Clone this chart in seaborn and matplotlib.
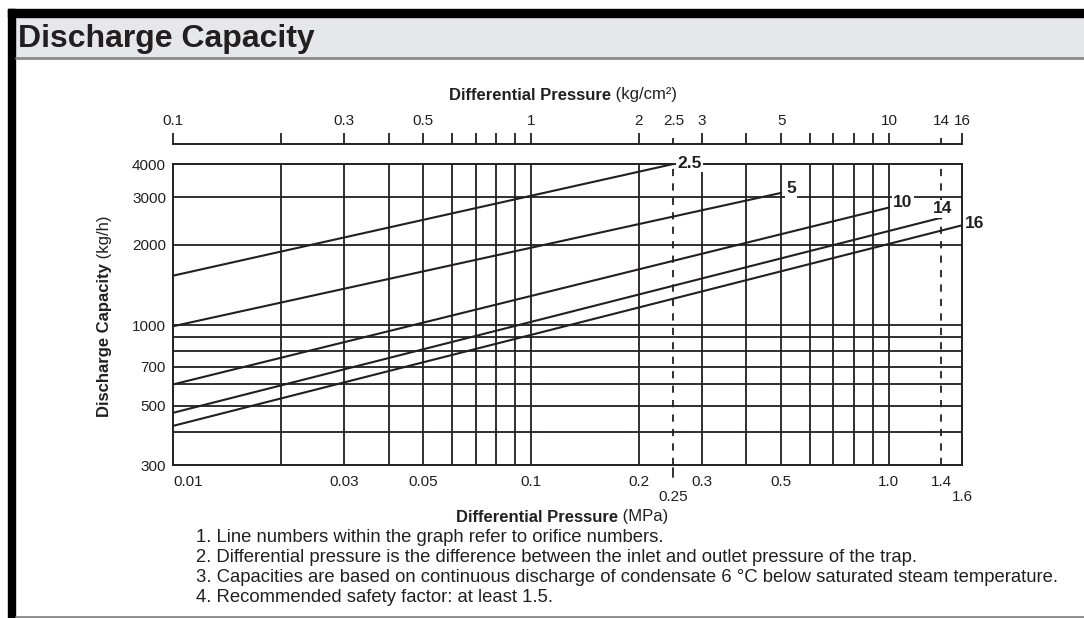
import numpy as np
import pandas as pd
import matplotlib
matplotlib.use('Agg')
import matplotlib.pyplot as plt
import seaborn as sns
from matplotlib.patches import Rectangle
from matplotlib.lines import Line2D
from matplotlib.ticker import FixedLocator, FixedFormatter, NullLocator

# --- data (pressure in MPa, capacity in kg/h) ---
orifices = ['2.5', '5', '10', '14', '16']
p_start = [0.01, 0.01, 0.01, 0.01, 0.01]
p_end = [0.25, 0.5, 1.0, 1.4, 1.6]
cap_start = [1530, 990, 600, 470, 420]
cap_end = [4000, 3120, 2750, 2520, 2360]

# bottom axis (MPa)
mpa_ticks = [0.01, 0.03, 0.05, 0.1, 0.2, 0.3, 0.5, 1.0, 1.4]
mpa_labels = ['0.01', '0.03', '0.05', '0.1', '0.2', '0.3', '0.5', '1.0', '1.4']
mpa_ticks_low = [0.25, 1.6]
mpa_labels_low = ['0.25', '1.6']

# top axis (kg/cm2)
kg_ticks = [0.1, 0.2, 0.3, 0.4, 0.5, 0.6, 0.7, 0.8, 0.9, 1, 2, 3, 4, 5, 6, 7, 8, 9, 10, 16]
kg_labels = ['0.1', '', '0.3', '', '0.5', '', '', '', '', '1', '2', '3', '', '5', '', '', '', '', '10', '16']
kg_ticks_short = [2.5, 14]
kg_labels_short = ['2.5', '14']

cap_ticks = [300, 500, 700, 1000, 2000, 3000, 4000]
cap_labels = ['300', '500', '700', '1000', '2000', '3000', '4000']

x_grid = [0.02, 0.03, 0.04, 0.05, 0.06, 0.07, 0.08, 0.09, 0.1,
          0.2, 0.3, 0.4, 0.5, 0.6, 0.7, 0.8, 0.9, 1.0]
x_dashed = [0.25, 1.4]
y_grid = [400, 500, 600, 700, 800, 900, 1000, 2000, 3000]

notes = [
    '1. Line numbers within the graph refer to orifice numbers.',
    '2. Differential pressure is the difference between the inlet and outlet pressure of the trap.',
    '3. Capacities are based on continuous discharge of condensate 6 \u00b0C below saturated steam temperature.',
    '4. Recommended safety factor: at least 1.5.',
]

df = pd.DataFrame({
    'orifice': orifices * 2,
    'pressure': p_start + p_end,
    'capacity': cap_start + cap_end,
})

sns.set_theme(style='white')
plt.rcParams['font.family'] = ['Liberation Sans', 'DejaVu Sans']
INK = '#231f20'
TICK_SIZE = 11

W, H = 1084, 618
fig = plt.figure(figsize=(W / 100, H / 100), dpi=100)
fig.patch.set_facecolor('white')


def fx(px):
    return px / W


def fy(py):
    return 1 - py / H


# page frame / header band
fig.patches.append(Rectangle((fx(16), fy(57)), fx(W - 16), 40 / H,
                             transform=fig.transFigure, color='#e6e7e8', zorder=0))
fig.patches.append(Rectangle((fx(8), fy(17)), fx(W - 8), 8 / H,
                             transform=fig.transFigure, color='black', zorder=1))
fig.patches.append(Rectangle((fx(8), 0), 7 / W, fy(9),
                             transform=fig.transFigure, color='black', zorder=1))
fig.lines.append(Line2D([fx(16), 1], [fy(58), fy(58)], transform=fig.transFigure,
                        color='#8a8a8a', lw=2))
fig.lines.append(Line2D([fx(16), 1], [fy(616.5), fy(616.5)], transform=fig.transFigure,
                        color='#8a8a8a', lw=2))
fig.text(fx(18), fy(39), 'Discharge Capacity', fontsize=23, fontweight='bold',
         color=INK, va='center', ha='left')

# main plot area
left, right, top, bottom = 173, 962, 164, 465
ax = fig.add_axes([fx(left), fy(bottom), fx(right - left), (bottom - top) / H])

sns.lineplot(data=df, x='pressure', y='capacity', hue='orifice', hue_order=orifices,
             palette=[INK] * len(orifices), estimator=None, sort=False,
             legend=False, lw=1.5, ax=ax, zorder=3)
ax.set_xscale('log')
ax.set_yscale('log')
ax.set_xlim(0.01, 1.6)
ax.set_ylim(300, 4000)

for x in x_grid:
    ax.axvline(x, color=INK, lw=1.3, zorder=1)
for x in x_dashed:
    ax.axvline(x, color=INK, lw=1.3, ls=(0, (4, 4)), zorder=1)
for y in y_grid:
    ax.axhline(y, color=INK, lw=1.3, zorder=1)
# little dashed stub under the axis pointing at 0.25
ax.plot([x_dashed[0]] * 2, [-0.04, -0.01], transform=ax.get_xaxis_transform(),
        color=INK, lw=1.3, clip_on=False)

for s in ax.spines.values():
    s.set_color(INK)
    s.set_linewidth(1.4)
    s.set_visible(True)

ax.xaxis.set_major_locator(FixedLocator(mpa_ticks))
ax.xaxis.set_major_formatter(FixedFormatter(mpa_labels))
ax.xaxis.set_minor_locator(FixedLocator(mpa_ticks_low))
ax.xaxis.set_minor_formatter(FixedFormatter(mpa_labels_low))
ax.tick_params(axis='x', which='major', length=0, pad=7, labelsize=TICK_SIZE, labelcolor=INK)
ax.tick_params(axis='x', which='minor', length=0, pad=18, labelsize=TICK_SIZE, labelcolor=INK)
ax.xaxis.get_major_ticks()[0].label1.set_horizontalalignment('left')

ax.yaxis.set_major_locator(FixedLocator(cap_ticks))
ax.yaxis.set_major_formatter(FixedFormatter(cap_labels))
ax.yaxis.set_minor_locator(NullLocator())
ax.tick_params(axis='y', which='major', length=0, pad=5, labelsize=TICK_SIZE, labelcolor=INK)
ax.set_xlabel('')
ax.set_ylabel('')

# top axis in kg/cm2, offset above the plot
sec = ax.secondary_xaxis(1 + 20 / (bottom - top),
                         functions=(lambda v: v * 10, lambda v: v / 10))
sec.xaxis.set_major_locator(FixedLocator(kg_ticks))
sec.xaxis.set_major_formatter(FixedFormatter(kg_labels))
sec.xaxis.set_minor_locator(FixedLocator(kg_ticks_short))
sec.xaxis.set_minor_formatter(FixedFormatter(kg_labels_short))
sec.tick_params(axis='x', which='major', direction='out', length=8, width=1.3,
                color=INK, pad=3.5, labelsize=TICK_SIZE, labelcolor=INK)
sec.tick_params(axis='x', which='minor', direction='out', length=4.5, width=1.3,
                color=INK, pad=7, labelsize=TICK_SIZE, labelcolor=INK)
for s in sec.spines.values():
    s.set_color(INK)
    s.set_linewidth(1.4)

# orifice labels at line ends
label_offsets = [(4, 1), (5, 4), (4, 5), (1, 9), (3, 2)]
label_ha = ['left', 'left', 'left', 'center', 'left']
for name, px, cy, off, ha in zip(orifices, p_end, cap_end, label_offsets, label_ha):
    ax.annotate(name, (px, cy), xytext=off, textcoords='offset pixels',
                ha=ha, va='center', fontsize=12.5, fontweight='bold', color=INK,
                annotation_clip=False, zorder=5,
                bbox=dict(boxstyle='square,pad=0.08', fc='white', ec='none'))

renderer = fig.canvas.get_renderer()


def mixed_label(cx, cy, bold, normal, size, vertical=False):
    # bold part followed by regular part, centred at (cx, cy) in pixels
    kw = dict(fontsize=size, color=INK, rotation=90 if vertical else 0)
    t1 = fig.text(0, 0, bold, fontweight='bold', **kw)
    t2 = fig.text(0, 0, normal, **kw)
    e1 = t1.get_window_extent(renderer)
    e2 = t2.get_window_extent(renderer)
    if vertical:
        total = e1.height + e2.height
        y0 = (H - cy) - total / 2
        t1.set_position((fx(cx), y0 / H))
        t1.set_ha('center'); t1.set_va('bottom')
        t2.set_position((fx(cx), (y0 + e1.height) / H))
        t2.set_ha('center'); t2.set_va('bottom')
    else:
        total = e1.width + e2.width
        x0 = cx - total / 2
        t1.set_position((x0 / W, fy(cy)))
        t1.set_ha('left'); t1.set_va('center')
        t2.set_position(((x0 + e1.width) / W, fy(cy)))
        t2.set_ha('left'); t2.set_va('center')


mixed_label(563, 95, 'Differential Pressure', ' (kg/cm\u00b2)', 12)
mixed_label(562, 517, 'Differential Pressure', ' (MPa)', 12)
mixed_label(105, 316, 'Discharge Capacity', ' (kg/h)', 12, vertical=True)

for i, line in enumerate(notes):
    fig.text(fx(196), fy(538 + 20 * i), line, fontsize=13.3, color=INK,
             ha='left', va='center')

fig.savefig('out.png', dpi=100)
